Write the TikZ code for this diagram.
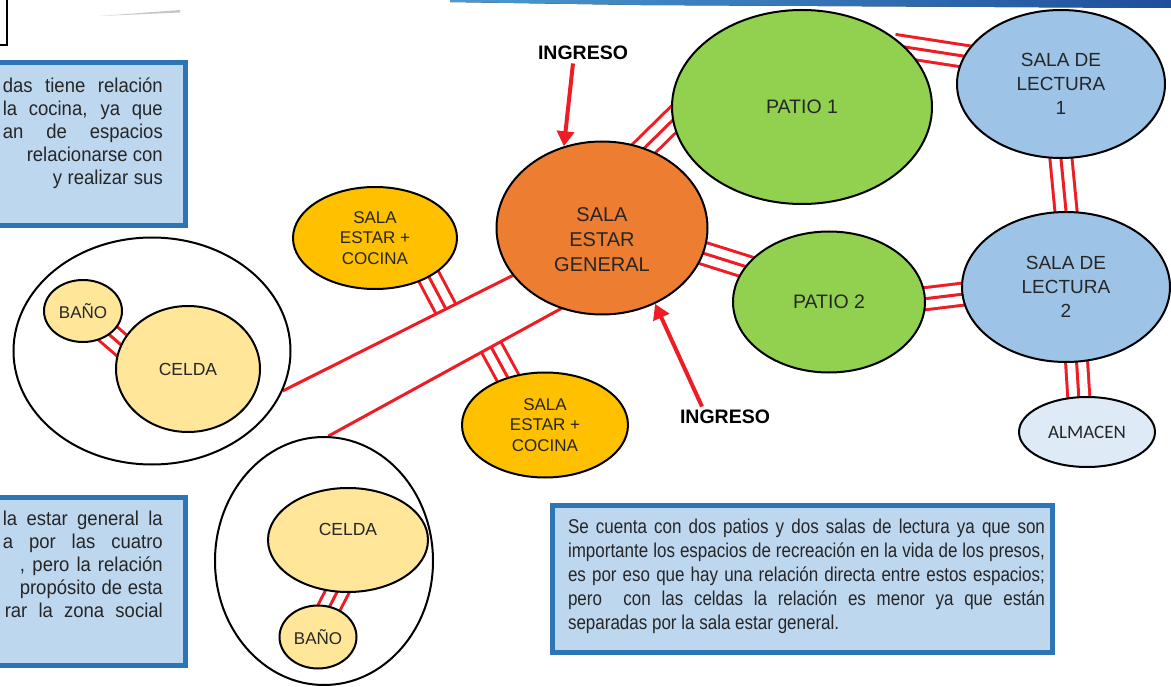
\documentclass[tikz,border=0pt]{standalone}
\usepackage{fontspec}
\setmainfont{Liberation Sans}
\newfontfamily\almfont{Carlito}
\newfontfamily\sidefont[FakeStretch=0.925]{Liberation Sans}
\newfontfamily\mainnotefont[FakeStretch=0.85]{Liberation Sans}
\usetikzlibrary{arrows.meta,backgrounds,calc,shapes.geometric}
\definecolor{mired}{HTML}{EE1C25}
\definecolor{cgen}{HTML}{ED7D31}
\definecolor{cpatio}{HTML}{92D050}
\definecolor{clect}{HTML}{9DC3E6}
\definecolor{calm}{HTML}{DEEBF7}
\definecolor{ccoc}{HTML}{FFC000}
\definecolor{ccel}{HTML}{FFE699}
\definecolor{boxfill}{HTML}{BDD7EE}
\definecolor{boxedge}{HTML}{2E75B6}
\definecolor{txtgray}{HTML}{262626}
\definecolor{barlight}{HTML}{4A9AD0}
\definecolor{bardark}{HTML}{1F4E9C}

\begin{document}
\begin{tikzpicture}[x=1pt, y=-1pt,
	room/.style={ellipse, draw=black, line width=2pt, inner sep=0pt, align=center, text=txtgray},
	note/.style={draw=boxedge, fill=boxfill, line width=5pt, inner sep=0pt},
	notetext/.style={inner sep=0pt, text=txtgray},
	rel/.style={draw=mired, line width=3pt},
	triple/.style={draw=mired, line width=25pt, shorten <=-12pt, shorten >=-12pt,
		postaction={draw=white, line width=19pt}, postaction={draw=mired, line width=3pt}},
	ingarrow/.style={draw=mired, line width=4pt, -{Triangle[length=15pt, width=17pt]}},
	ingtext/.style={font=\bfseries\fontsize{19.5}{23}\selectfont}]
	\useasboundingbox (0,0) rectangle (1171,687);
	\draw[line width=2pt] (-10,-10) rectangle (7,45);
	\fill[gray!45] (100,16) -- (180,10) -- (180,12.5) -- cycle;
	\fill[left color=barlight, right color=bardark] (450,0) -- (1171,0) -- (1171,8) -- (640,5) -- (450,2) -- cycle;

	\node[note, minimum width=215pt, minimum height=163pt] (noteA) at (78,144) {};
	\node[notetext, anchor=east, align=right, font=\sidefont\fontsize{20}{23}\selectfont] (txtA) at (163,133) {\makebox[160pt][s]{das tiene relación}\\ \makebox[160pt][s]{la cocina, ya que}\\ \makebox[160pt][s]{an de espacios}\\ \makebox[136pt][s]{relacionarse con}\\ \makebox[110pt][s]{y realizar sus}};
	\node[note, minimum width=215pt, minimum height=168pt] (noteB) at (78,581.5) {};
	\node[notetext, anchor=east, align=right, font=\sidefont\fontsize{20}{23}\selectfont] (txtB) at (163,564) {\makebox[160pt][s]{la estar general la}\\ \makebox[160pt][s]{a por las cuatro}\\ \makebox[143pt][s]{, pero la relación}\\ \makebox[143pt][s]{propósito de esta}\\ \makebox[158pt][s]{rar la zona social}};
	\node[note, minimum width=500pt, minimum height=147pt] (noteC) at (802.5,579) {};
	\node[notetext, text width=477pt, align=justify, font=\mainnotefont\fontsize{20}{24}\selectfont] (txtC) at (806.5,576) {Se cuenta con dos patios y dos salas de lectura ya que son\linebreak importante los espacios de recreación en la vida de los presos,\linebreak es por eso que hay una relación directa entre estos espacios;\linebreak pero\ \ con las celdas la relación es menor ya que están\linebreak separadas por la sala estar general.};

	\node[room, fill=cgen, minimum width=211pt, minimum height=173pt, font=\fontsize{20}{25}\selectfont] (general) at (602,228) {\rule{0pt}{38pt}SALA\\ESTAR\\GENERAL};
	\node[room, fill=cpatio, minimum width=260pt, minimum height=194pt, font=\fontsize{19.5}{24}\selectfont] (patioA) at (802,107) {PATIO 1};
	\node[room, fill=cpatio, minimum width=192pt, minimum height=141pt, font=\fontsize{19.5}{24}\selectfont] (patioB) at (829,302) {PATIO 2};
	\node[room, fill=clect, minimum width=208pt, minimum height=148pt, font=\fontsize{19}{24}\selectfont] (lecturaA) at (1061,84) {SALA DE\\LECTURA\\1};
	\node[room, fill=clect, minimum width=208pt, minimum height=150pt, font=\fontsize{19}{24}\selectfont] (lecturaB) at (1066,287) {SALA DE\\LECTURA\\2};
	\node[room, fill=calm, minimum width=136pt, minimum height=70pt, font=\almfont\fontsize{19}{23}\selectfont] (almacen) at (1087,432) {ALMACEN};
	\node[room, fill=ccoc, minimum width=164pt, minimum height=102pt, font=\fontsize{17}{20.5}\selectfont] (cocinaA) at (375,238) {SALA\\ESTAR +\\COCINA};
	\node[room, fill=ccoc, minimum width=166pt, minimum height=105pt, font=\fontsize{17}{20.5}\selectfont] (cocinaB) at (545,425) {SALA\\ESTAR +\\COCINA};
	\node[room, minimum width=277pt, minimum height=227pt] (bigA) at (152,351) {};
	\node[room, fill=ccel, minimum width=78pt, minimum height=62pt, font=\fontsize{17}{20}\selectfont] (banoA) at (83,311) {BAÑO};
	\node[room, fill=ccel, minimum width=144pt, minimum height=126pt, font=\fontsize{17.5}{20}\selectfont] (celdaA) at (188,369) {CELDA};
	\node[room, minimum width=218pt, minimum height=248pt] (bigB) at (324,561) {};
	\node[room, fill=ccel, minimum width=160pt, minimum height=104pt, text depth=22pt, font=\fontsize{17.5}{20}\selectfont] (celdaB) at (348,540) {CELDA};
	\node[room, fill=ccel, minimum width=77pt, minimum height=63pt, font=\fontsize{17}{20}\selectfont] (banoB) at (318,637) {BAÑO};

	\node[ingtext] (ingA) at (583,53) {INGRESO};
	\node[ingtext] (ingB) at (725,417) {INGRESO};
	\draw[ingarrow] ([xshift=-10pt]ingA.south) -- (general.115);
	\draw[ingarrow] ([xshift=-23pt]ingB.north) -- (general.-55);

	\begin{scope}[on background layer]
		\draw[triple] (general.62) -- (patioA.186);
		\draw[triple] (general.-14) -- (patioB.157);
		\draw[triple] (patioA.30) -- (lecturaA.164);
		\draw[triple] (lecturaA.south) -- (lecturaB.north);
		\draw[triple] (patioB.2) -- (lecturaB.184);
		\draw[triple] (lecturaB.-82) -- (almacen.103);
		\draw[triple] (banoA.-42) -- (celdaA.160);
		\draw[triple] (celdaB.-102) -- (banoB.69);
		\coordinate (jA) at ($(bigA.-17)!0.71!(general.208)$);
		\coordinate (jB) at ($(bigB.88)!0.70!(general.243)$);
		\draw[triple, shorten >=0pt] (cocinaA.-36) -- (jA);
		\draw[triple, shorten >=0pt] (cocinaB.128) -- (jB);
		\draw[rel, shorten >=-3pt] (bigA.-17) -- (general.208);
		\draw[rel, shorten >=-3pt] (bigB.88) -- (general.243);
	\end{scope}
\end{tikzpicture}
\end{document}
